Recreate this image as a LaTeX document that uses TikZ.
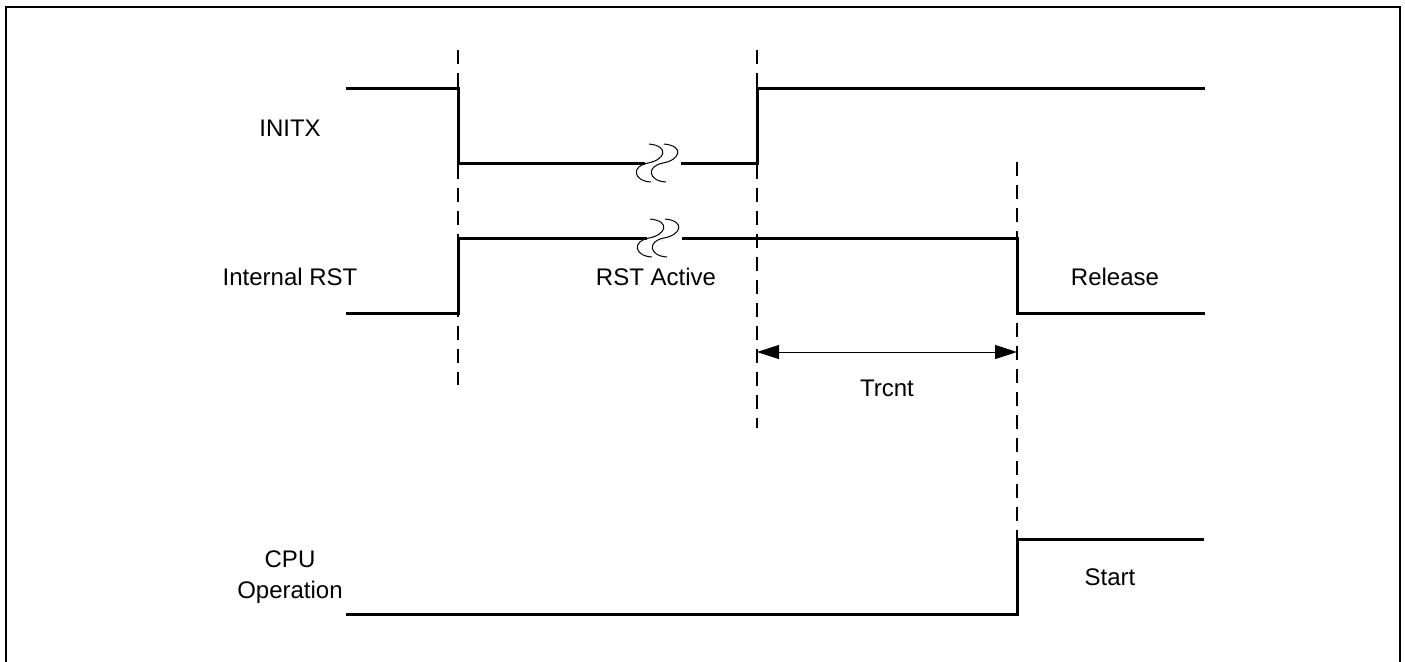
\documentclass[tikz,border=0pt]{standalone}
\usepackage{fontspec}
\setmainfont{Liberation Sans}
\usetikzlibrary{arrows.meta}

\tikzset{
  signal/.style={line width=1.5pt},
  guide/.style={line width=0.8pt, dash pattern=on 7pt off 4.5pt},
  wavy/.style={line width=0.5pt},
  lbl/.style={font=\fontsize{12}{15.5}\selectfont, inner sep=0pt, align=center},
  span/.style={{Triangle[length=11pt,width=7pt]}-{Triangle[length=11pt,width=7pt]}, line width=0.5pt},
}

% break mark: two S-curves, centre x and y
\newcommand{\breakmark}[2]{%
  \foreach \dx in {0,15} {
    \draw[wavy] (#1+\dx-1,#2-19) .. controls (#1+\dx+20,#2-17) and (#1+\dx+15,#2-3) .. (#1+\dx-2,#2)
      .. controls (#1+\dx-19,#2+3) and (#1+\dx-17,#2+18) .. (#1+\dx+1,#2+19);
  }}

\begin{document}
\begin{tikzpicture}[x=0.5pt, y=-0.5pt]
    \useasboundingbox (0,0) rectangle (1405,661);

    % Frame
    \draw[line width=1.2pt] (6,680) |- (1400,7) -- (1400,680);

    % Time marks
    \coordinate (fall) at (458,0);
    \coordinate (rise) at (757,0);
    \coordinate (rel)  at (1017,0);

    % INITX
    \node[lbl] (initx) at (290,128) {INITX};
    \draw[signal] (346,88) -- (458,88) -- (458,163) -- (645,163);
    \draw[signal] (681,163) -- (757,163) -- (757,88) -- (1205,88);
    \breakmark{650}{163}

    % Internal RST
    \node[lbl] (rst) at (290,277) {Internal RST};
    \draw[signal] (346,313) -- (458,313) -- (458,238) -- (647,238);
    \draw[signal] (682,238) -- (1017,238) -- (1017,313) -- (1205,313);
    \breakmark{651}{238}
    \node[lbl] (active) at (656,277) {RST Active};
    \node[lbl] (release) at (1115,277) {Release};

    % CPU operation
    \node[lbl] (cpu) at (290,577) {CPU\\Operation};
    \draw[signal] (346,614) -- (1017,614) -- (1017,539) -- (1204,539);
    \node[lbl] (start) at (1110,577) {Start};

    % Dashed guides
    \draw[guide] (fall |- 0,50) -- (fall |- 0,385);
    \draw[guide] (rise |- 0,50) -- (rise |- 0,428);
    \draw[guide] (rel |- 0,162) -- (rel |- 0,539);

    % Trcnt
    \coordinate (tl) at (rise |- 0,352);
    \coordinate (tr) at (rel |- 0,352);
    \draw[span] (tl) -- (tr);
    \node[lbl] (trcnt) at (887,388) {Trcnt};
\end{tikzpicture}
\end{document}
